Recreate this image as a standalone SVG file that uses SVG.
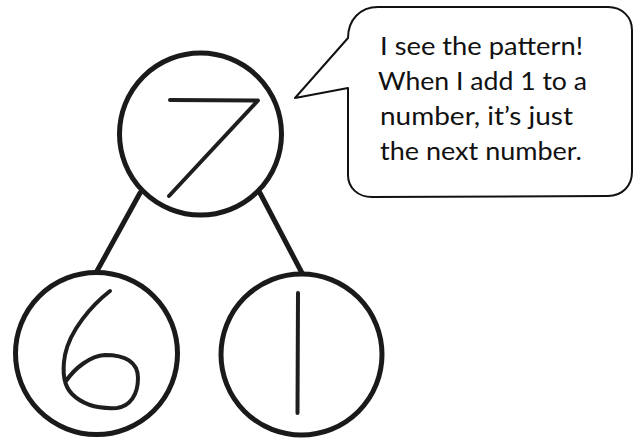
<svg xmlns="http://www.w3.org/2000/svg" width="637" height="440" viewBox="0 0 637 440">
  <style>
    .ring { fill: none; stroke: #1a1a1a; stroke-width: 5; }
    .digit { fill: none; stroke: #1e1e1e; stroke-width: 4; stroke-linecap: round; stroke-linejoin: round; }
    .conn { stroke: #1a1a1a; stroke-width: 5; stroke-linecap: round; }
    .bubble { fill: #fff; stroke: #111; stroke-width: 2; stroke-linejoin: round; }
    .say { font-family: Lato, "Open Sans", "Liberation Sans", sans-serif; font-size: 25px; fill: #111; }
  </style>
  <rect width="637" height="440" fill="#fff"/>
  <g id="connectors">
    <line class="conn" x1="140" y1="193" x2="97" y2="271"/>
    <line class="conn" x1="260" y1="193" x2="302" y2="273"/>
  </g>
  <g id="node-7">
    <circle class="ring" cx="200.5" cy="134" r="81"/>
    <path class="digit" d="M170,100 L258,100.5 L169,196"/>
  </g>
  <g id="node-6">
    <circle class="ring" cx="96.5" cy="353.5" r="81"/>
    <path class="digit" d="M110,291 C92,305 70,330 65,355 C62,372 63,385 72,394 C82,404 98,409 117,408 C130,406 138,395 138,378 C138,362 125,355 105,355 C90,356 75,368 66,381"/>
  </g>
  <g id="node-1">
    <circle class="ring" cx="301.5" cy="354.5" r="80.5"/>
    <line class="digit" x1="298" y1="293" x2="297.5" y2="413"/>
  </g>
  <g id="speech-bubble">
    <path class="bubble" d="M295,98 L348,38 C348,20 360,7 378,7 L608,7 C622,7 632,17 632,30 L632,172 C632,186 622,196 608,196 L372,197 C358,197 348,188 348,175 L348,88 Z"/>
    <text class="say" x="380" y="55" textLength="203" lengthAdjust="spacingAndGlyphs">I see the pattern!</text>
    <text class="say" x="378" y="90" textLength="209" lengthAdjust="spacingAndGlyphs">When I add 1 to a</text>
    <text class="say" x="380" y="125" textLength="193" lengthAdjust="spacingAndGlyphs">number, it’s just</text>
    <text class="say" x="380" y="160" textLength="202" lengthAdjust="spacingAndGlyphs">the next number.</text>
  </g>
</svg>
